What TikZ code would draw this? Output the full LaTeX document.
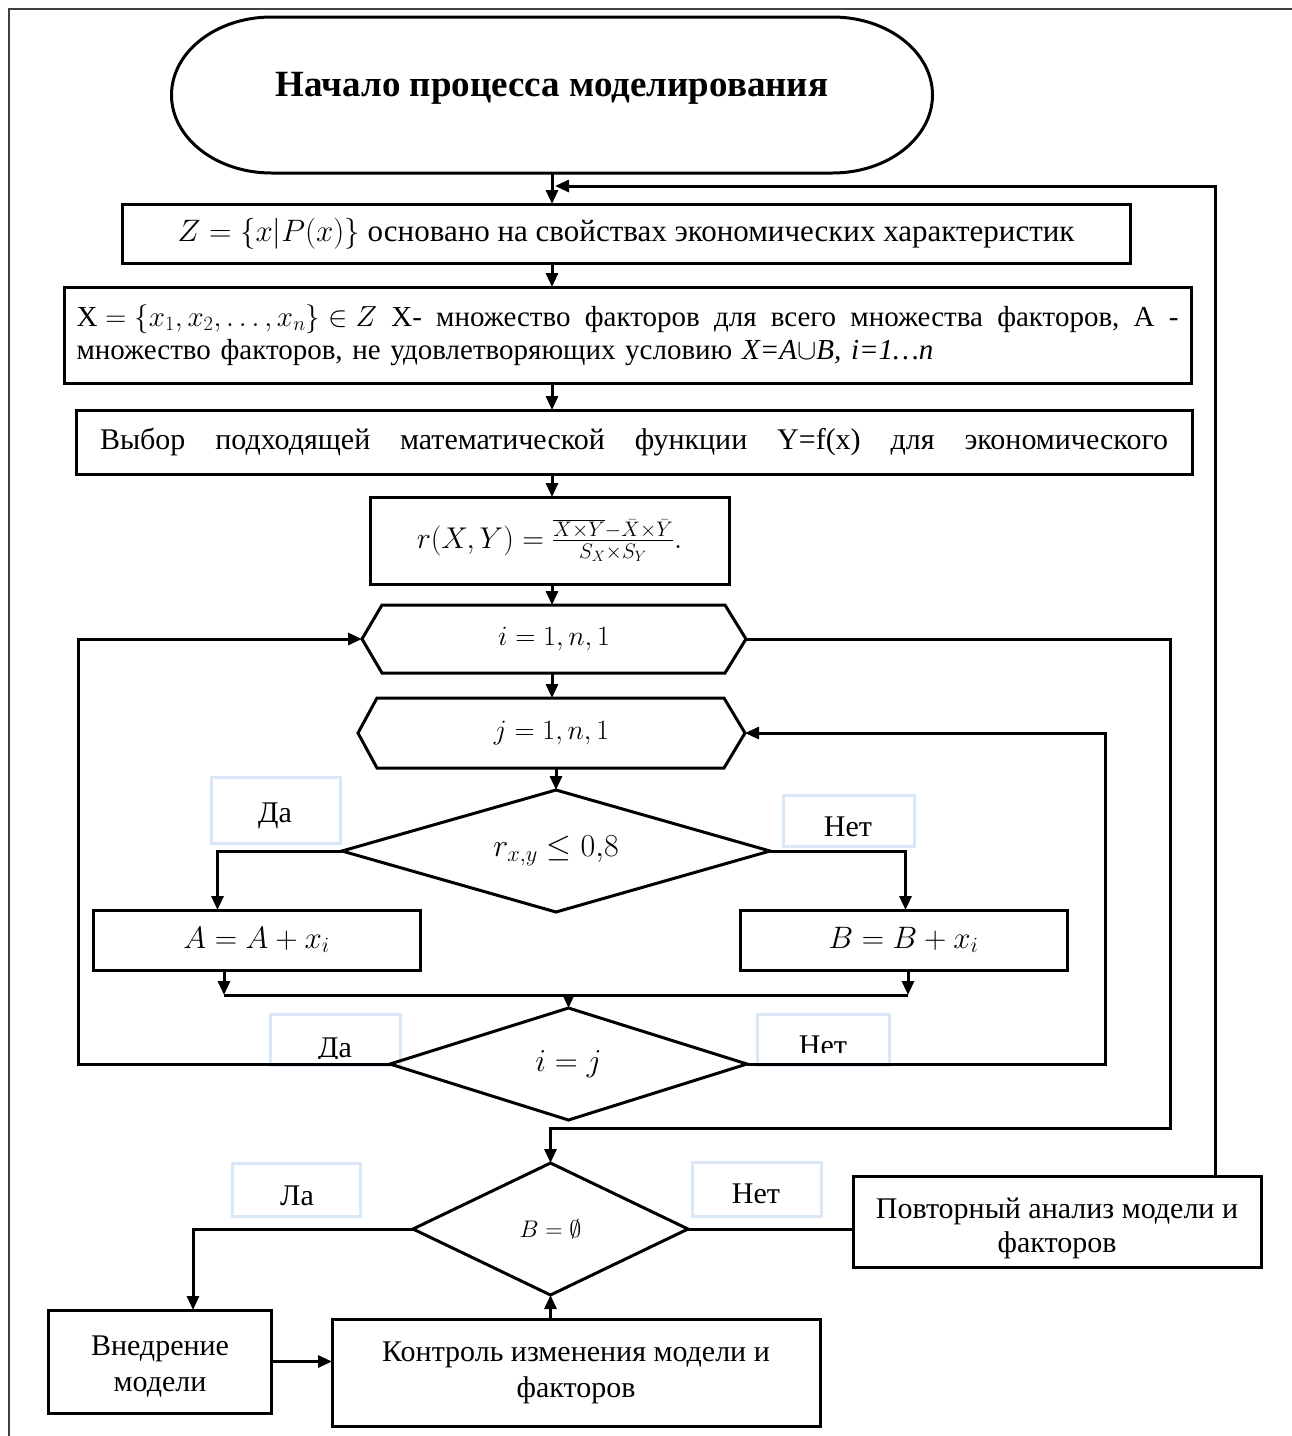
\RequirePackage{fix-cm}
\documentclass[tikz,border=0pt]{standalone}
\usepackage{fontspec}
\setmainfont{Liberation Serif}
\usetikzlibrary{arrows.meta,shapes.geometric,calc}
\definecolor{lblue}{RGB}{218,231,246}
\begin{document}
\begin{tikzpicture}[x=1pt,y=-1pt,
  line/.style={line width=3pt},
  arr/.style={line width=3pt,-{Triangle[length=14pt,width=12pt]}},
  plain/.style={inner sep=0pt,outer sep=0pt},
  box/.style={draw,line width=3pt,inner sep=0pt,outer sep=0pt,align=center,font=\fontsize{30}{36}\selectfont},
  lbl/.style={draw=lblue,line width=3pt,inner sep=0pt,outer sep=0pt},
  lbltext/.style={inner sep=0pt,anchor=base,font=\fontsize{30}{36}\selectfont},
  dia/.style={draw,diamond,line width=3pt,inner sep=0pt,outer sep=0pt},
  hexnode/.style={inner sep=0pt,outer sep=0pt,font=\fontsize{28}{32}\selectfont},
]
\useasboundingbox (0,0) rectangle (1292,1436);
% frame
\draw[line width=2pt,black!75] (9,1436) -- (9,9) -- (1292,9);

% flow column coordinates
\coordinate (fx) at (552,0);
\coordinate (lx) at (78,0);
\coordinate (rx1) at (1105,0);
\coordinate (rx2) at (1170,0);
\coordinate (bot) at (0,1128);
\coordinate (mL) at (224,995);
\coordinate (mR) at (908,995);
\coordinate (fbEnd) at (555,186);

% start terminator
\node[plain,minimum width=761pt,minimum height=156pt] (start) at (552,95)
  {\raisebox{22pt}{\bfseries\fontsize{37}{42}\selectfont Начало процесса моделирования}};
\draw[line] ([xshift=100pt]start.north west) -- ([xshift=-100pt]start.north east)
  arc[start angle=90,end angle=-90,x radius=100pt,y radius=78pt]
  -- ([xshift=100pt]start.south west)
  arc[start angle=-90,end angle=-270,x radius=100pt,y radius=78pt] -- cycle;

% boxes
\node[box,minimum width=1008pt,minimum height=59pt,font=\fontsize{31}{36}\selectfont] (Z) at (626,233.5)
  {$Z=\{x|P(x)\}$ основано на свойствах экономических характеристик};
\node[box,minimum width=1127pt,minimum height=96pt,text width=1102pt,align=left,
  font=\fontsize{29}{33}\selectfont] (X) at (627.5,335)
  {\makebox[1102pt][l]{\mbox{$\mathrm{X}=\{x_1,x_2,\dots,x_n\}\in Z$}\hfill X-\hfill множество\hfill факторов\hfill для\hfill всего\hfill множества\hfill факторов,\hfill A\hfill -}\\
   множество факторов, не удовлетворяющих условию \textit{X=A$\cup$B, i=1…n}};
\node[box,minimum width=1116pt,minimum height=64pt] (Y) at (634,442)
  {\makebox[1068pt][l]{Выбор\hfill подходящей\hfill математической\hfill функции\hfill Y=f(x)\hfill для\hfill экономического}};
\node[box,minimum width=359pt,minimum height=87pt,font=\fontsize{30}{36}\selectfont] (r) at (549.5,540.5)
  {$r(X,Y)=\frac{\overline{X\times Y}-\bar{X}\times\bar{Y}}{S_X\times S_Y}.$};

% hexagons
\node[hexnode,minimum width=384pt,minimum height=68pt] (ihex) at (554,639) {$i=1,n,1$};
\draw[line] (ihex.west) -- ([xshift=20pt]ihex.north west) -- ([xshift=-21pt]ihex.north east)
  -- (ihex.east) -- ([xshift=-21pt]ihex.south east) -- ([xshift=20pt]ihex.south west) -- cycle;
\node[hexnode,minimum width=387pt,minimum height=70pt] (jhex) at (551.5,733) {$j=1,n,1$};
\draw[line] (jhex.west) -- ([xshift=19pt]jhex.north west) -- ([xshift=-21pt]jhex.north east)
  -- (jhex.east) -- ([xshift=-21pt]jhex.south east) -- ([xshift=19pt]jhex.south west) -- cycle;

% labels (light boxes)
\node[lbl,minimum width=129pt,minimum height=66pt] (l1) at (275.5,810) {};
\node[lbltext] (l1t) at (275,822) {Да};
\node[lbl,minimum width=131pt,minimum height=51pt] (l2) at (848.5,820.5) {};
\node[lbltext] (l2t) at (848,836) {Нет};
\node[lbl,minimum width=130pt,minimum height=51pt] (l3) at (335,1039.5) {};
\begin{scope}
  \clip (260,1000) rectangle (410,1058);
  \node[lbltext] (l3t) at (335,1057) {Да};
\end{scope}
\node[lbl,minimum width=132pt,minimum height=51pt] (l4) at (823,1039.5) {};
\begin{scope}
  \clip (750,1000) rectangle (900,1052);
  \node[lbltext] (l4t) at (823,1055) {Нет};
\end{scope}
\node[lbl,minimum width=128pt,minimum height=53pt] (l5) at (296,1189.5) {};
\node[lbltext] (l5t) at (297,1205) {Ла};
\node[lbl,minimum width=129pt,minimum height=54pt] (l6) at (756.5,1189) {};
\node[lbltext] (l6t) at (756,1203) {Нет};

% decisions
\node[dia,aspect=3.5,minimum width=428pt,minimum height=122pt,font=\fontsize{32}{36}\selectfont] (d1) at (556,851) {$r_{x,y}\le 0{,}8$};
\node[box,minimum width=327pt,minimum height=60pt,font=\fontsize{31}{36}\selectfont] (A) at (256.5,940) {$A=A+x_i$};
\node[box,minimum width=327pt,minimum height=60pt,font=\fontsize{31}{36}\selectfont] (B) at (903.5,940) {$B=B+x_i$};
\node[dia,aspect=3.2,minimum width=357pt,minimum height=112pt,font=\fontsize{32}{36}\selectfont] (d2) at (568.5,1064) {$i=j$};
\node[dia,aspect=2,minimum width=275pt,minimum height=132pt,font=\fontsize{24}{28}\selectfont] (d3) at (550.5,1229) {$B=\emptyset$};

% bottom boxes
\node[box,minimum width=223pt,minimum height=103pt] (V) at (160,1361.5) {\rule{0pt}{30pt}Внедрение\\[0pt]модели};
\node[box,minimum width=488pt,minimum height=107pt] (K) at (576,1372.5) {Контроль изменения модели и\\[0pt]факторов};
\node[box,minimum width=408pt,minimum height=91pt] (P) at (1057,1221.5) {\rule{0pt}{34pt}Повторный анализ модели и\\[-2pt]факторов};

% connectors
\draw[arr] (start.south -| fx) -- (Z.north -| fx);
\draw[arr] (Z.south -| fx) -- (X.north -| fx);
\draw[arr] (X.south -| fx) -- (Y.north -| fx);
\draw[arr] (Y.south -| fx) -- (r.north -| fx);
\draw[arr] (r.south -| fx) -- (ihex.north -| fx);
\draw[arr] (ihex.south -| fx) -- (jhex.north -| fx);
\draw[arr] (jhex.south -| d1.north) -- (d1.north);
\draw[arr] (d1.west) -| ([xshift=-39pt]A.north);
\draw[arr] (d1.east) -| ([xshift=2pt]B.north);
\draw[arr] (mL |- A.south) -- (mL);
\draw[arr] (mR |- B.south) -- (mR);
\draw[line] (mL) -- (mR);
\draw[arr] (mL -| d2.north) -- (d2.north);
\draw[arr] (d2.west) -- (d2.west -| lx) -- (lx |- ihex.west) -- (ihex.west);
\draw[arr] (d2.east) -- (d2.east -| rx1) -- (rx1 |- jhex.east) -- (jhex.east);
\draw[arr] (ihex.east) -- (ihex.east -| rx2) -- (rx2 |- bot) -- (bot -| d3.north) -- (d3.north);
\draw[arr] (d3.west) -| ([xshift=33pt]V.north);
\draw[arr] (V.east) -- (V.east -| K.west);
\draw[arr] (K.north -| d3.south) -- (d3.south);
\draw[line] (d3.east) -- (d3.east -| P.west);
\draw[arr] ([xshift=158pt]P.north) |- (fbEnd);
\end{tikzpicture}
\end{document}
